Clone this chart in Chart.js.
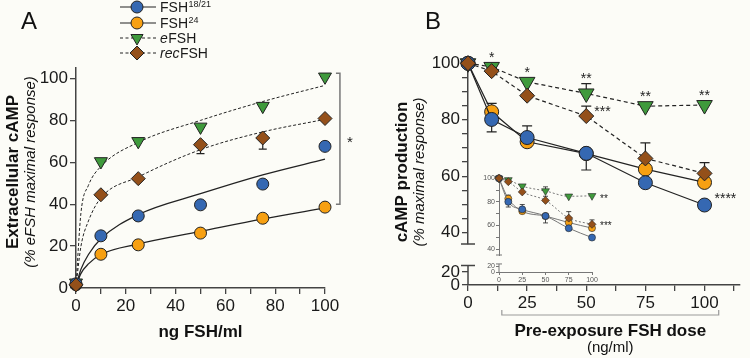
<!DOCTYPE html>
<html>
<head>
<meta charset="utf-8">
<script src="https://cdn.jsdelivr.net/npm/chart.js@4.4.1/dist/chart.umd.min.js"></script>
<style>
html, body { margin: 0; padding: 0; background: #fcfcf7; }
#wrap { position: relative; width: 750px; height: 358px; overflow: hidden; }
canvas { position: absolute; }
#chartA { left: 0; top: 0; }
#chartB { left: 390px; top: 0; }
#inset { left: 470px; top: 168px; }
</style>
</head>
<body>
<div id="wrap">
  <canvas id="chartA" width="390" height="358"></canvas>
  <canvas id="chartB" width="360" height="358"></canvas>
  <canvas id="inset" width="160" height="125"></canvas>
</div>
<script>
const FONT = "'Liberation Sans', Arial, Helvetica, sans-serif";
Chart.defaults.font.family = FONT;
Chart.defaults.color = '#1a1a1a';
Chart.defaults.animation = false;
Chart.defaults.plugins.legend.display = false;
Chart.defaults.plugins.tooltip.enabled = false;

// series (same order in both panels)
const seriesNames = ['FSH18/21', 'FSH24', 'eFSH', 'recFSH'];
const seriesColors = ['#3568b2', '#f7a012', '#3f9a3c', '#94501a'];
const seriesShapes = ['circle', 'circle', 'triangle', 'rectRot'];
const seriesDashed = [false, false, true, true];
const drawOrder = [1, 2, 3, 0];

// legend text pieces: n = normal, i = italic, sup = superscript
const legendParts = [
  [['FSH', 'n'], ['18/21', 'sup']],
  [['FSH', 'n'], ['24', 'sup']],
  [['e', 'i'], ['FSH', 'n']],
  [['rec', 'i'], ['FSH', 'n']]
];

// ---- panel A : extracellular cAMP ----
const doseA = [0, 10, 25, 50, 75, 100];
const fsh1821A = [2, 24.9, 34.4, 39.7, 49.6, 67.6];
const fsh24A = [1.5, 16.1, 20.6, 26.2, 33.3, 38.6];
const eFshA = [2.5, 60.4, 70, 76.9, 86.8, 100.8];
const recFshA = [1.5, 44.5, 52.2, 68.4, 71.6, 80.9];
const recFshErrLoA = [0, 0, 0, 4.3, 5.3, 0];

// fitted curves
const fitDoseA = [0, 2, 5, 10, 25, 50, 75, 100];
const fitFsh1821A = [1, 9, 16, 23.5, 35, 45, 54, 61.5];
const fitFsh24A = [1, 7, 11.5, 16, 21, 27, 33, 38.2];
const fitEFshA = [1, 36, 49, 58, 69.5, 80, 89, 96.7];
const fitRecFshA = [1, 20, 32, 43, 53, 66, 74.5, 80.5];

const ticksAx = [0, 10, 20, 30, 40, 50, 60, 70, 80, 90, 100];
const ticksAy = [0, 20, 40, 60, 80, 100];

// ---- panel B : cAMP production after pre-exposure ----
const doseB = [0, 10, 25, 50, 75, 100];
const fsh1821B = [100, 80.1, 73.7, 68.1, 57.7, 49.8];
const fsh24B = [100, 82.8, 72.2, 68, 62.5, 57.8];
const eFshB = [100, 98.7, 93.4, 89.3, 84.8, 85.2];
const recFshB = [100, 97.2, 88.5, 81.3, 66.3, 61];

const fsh1821ErrHiB = [0, 0, 4.1, 0, 0, 0];
const fsh1821ErrLoB = [0, 4.4, 0, 5.9, 0, 0];
const fsh24ErrHiB = [0, 3, 0, 0, 0, 0];
const eFshErrHiB = [0, 0, 0, 3.5, 0, 0];
const recFshErrHiB = [0, 0, 0, 3.5, 5.5, 3.8];

const starsEFshB = ['', '*', '*', '**', '**', '**'];
const starsRecFshB = ['', '', '', '***', '', ''];
const starsFsh1821B = ['', '', '', '', '', '****'];
const starsEFshInset = ['', '', '', '', '', '**'];
const starsRecFshInset = ['', '', '', '', '', '***'];

const ticksBx = [0, 12.5, 25, 37.5, 50, 62.5, 75, 87.5, 100, 112.5];
const ticksBy = [40, 45, 50, 55, 60, 65, 70, 75, 80, 85, 90, 95, 100];
const ticksBy2 = [0, 20];
const ticksIx = [0, 25, 50, 75, 100];
const ticksIy = [40, 50, 60, 70, 80, 90, 100];
const ticksIy2 = [0, 20];

// ---------- helpers ----------
function setTicks(list) {
  return s => { s.ticks = list.map(v => ({ value: v })); };
}

function drawMarker(ctx, shape, x, y, r, fill) {
  ctx.beginPath();
  if (shape === 'circle') {
    ctx.arc(x, y, r, 0, Math.PI * 2);
  } else if (shape === 'triangle') {
    ctx.moveTo(x, y + r);
    ctx.lineTo(x - r * 0.866, y - r / 2);
    ctx.lineTo(x + r * 0.866, y - r / 2);
    ctx.closePath();
  } else {
    ctx.moveTo(x, y - r); ctx.lineTo(x + r, y); ctx.lineTo(x, y + r); ctx.lineTo(x - r, y);
    ctx.closePath();
  }
  ctx.fillStyle = fill; ctx.fill();
  ctx.strokeStyle = '#222'; ctx.lineWidth = 1; ctx.stroke();
}

function richText(ctx, parts, x, y, size) {
  let cx = x;
  parts.forEach(([t, st]) => {
    const sz = st === 'sup' ? Math.round(size * 0.65) : size;
    ctx.font = (st === 'i' ? 'italic ' : '') + sz + 'px ' + FONT;
    ctx.fillText(t, cx, st === 'sup' ? y - size * 0.28 : y);
    cx += ctx.measureText(t).width + (st === 'sup' ? 0 : 0.5);
  });
}

function vText(ctx, text, x, y, font) {
  ctx.save();
  ctx.translate(x, y);
  ctx.rotate(-Math.PI / 2);
  ctx.font = font;
  ctx.textAlign = 'center';
  ctx.textBaseline = 'middle';
  ctx.fillText(text, 0, 0);
  ctx.restore();
}

function errorBars(cap, width) {
  return {
    id: 'errorBars',
    beforeDatasetsDraw(chart) {
      const ctx = chart.ctx;
      ctx.save();
      ctx.strokeStyle = '#222';
      ctx.lineWidth = width;
      chart.data.datasets.forEach(ds => {
        if (!ds.errHi && !ds.errLo) return;
        const xs = chart.scales.x, ys = chart.scales[ds.yAxisID || 'y'];
        ds.data.forEach((p, j) => {
          [[ds.errHi, 1], [ds.errLo, -1]].forEach(([arr, s]) => {
            if (!arr || !arr[j]) return;
            const px = xs.getPixelForValue(p.x);
            const p0 = ys.getPixelForValue(p.y);
            const p1 = ys.getPixelForValue(p.y + s * arr[j]);
            ctx.beginPath();
            ctx.moveTo(px, p0); ctx.lineTo(px, p1);
            ctx.moveTo(px - cap, p1); ctx.lineTo(px + cap, p1);
            ctx.stroke();
          });
        });
      });
      ctx.restore();
    }
  };
}

// broken y axis: lower stub + caps
function axisBreak(lowTop, capHalf, color, width) {
  return {
    id: 'axisBreak',
    afterDraw(chart) {
      const { ctx, chartArea: ca, scales } = chart;
      const x = ca.left;
      const yLow0 = scales.y2.getPixelForValue(0);
      const yLowTop = scales.y2.getPixelForValue(lowTop);
      const yUpBot = scales.y.getPixelForValue(scales.y.min);
      ctx.save();
      ctx.strokeStyle = color;
      ctx.lineWidth = width;
      ctx.beginPath();
      ctx.moveTo(x, yLow0); ctx.lineTo(x, yLowTop);
      ctx.moveTo(x - capHalf, yLowTop); ctx.lineTo(x + capHalf, yLowTop);
      ctx.moveTo(x - capHalf, yUpBot); ctx.lineTo(x + capHalf, yUpBot);
      ctx.stroke();
      ctx.restore();
    }
  };
}

function starLabels(specs, size) {
  return {
    id: 'stars',
    afterDatasetsDraw(chart) {
      const ctx = chart.ctx;
      ctx.save();
      ctx.fillStyle = '#222';
      ctx.font = size + 'px ' + FONT;
      ctx.textBaseline = 'alphabetic';
      specs.forEach(sp => {
        const meta = chart.getDatasetMeta(sp.series);
        const ds = chart.data.datasets[sp.series];
        const ys = chart.scales.y;
        sp.labels.forEach((lab, j) => {
          if (!lab) return;
          const el = meta.data[j];
          let cx, cy;
          if (sp.place === 'above') {
            let top = el.y - 13;
            if (ds.errHi && ds.errHi[j]) top = Math.min(top, ys.getPixelForValue(ds.data[j].y + ds.errHi[j]) - 9);
            cx = el.x; cy = top;
            ctx.textAlign = 'center';
          } else {
            cx = el.x + sp.dx; cy = el.y + sp.dy;
            ctx.textAlign = 'left';
          }
          ctx.fillText(lab, cx, cy + size * 0.57);
        });
      });
      ctx.restore();
    }
  };
}

const axisColor = '#444';

// ---------- panel A ----------
const pointsA = [fsh1821A, fsh24A, eFshA, recFshA];
const fitsA = [fitFsh1821A, fitFsh24A, fitEFshA, fitRecFshA];
const radA = { circle: 6, triangle: 7.5, rectRot: 7 };

const setsA = [];
pointsA.forEach((vals, i) => {
  setsA.push({
    label: seriesNames[i],
    data: doseA.map((x, j) => ({ x, y: vals[j] })),
    showLine: false,
    pointStyle: seriesShapes[i],
    rotation: seriesShapes[i] === 'triangle' ? 180 : 0,
    pointRadius: radA[seriesShapes[i]],
    backgroundColor: seriesColors[i],
    borderColor: '#222',
    borderWidth: 1,
    errLo: i === 3 ? recFshErrLoA : null,
    order: drawOrder[i],
    clip: false
  });
});
fitsA.forEach((vals, i) => {
  setsA.push({
    label: seriesNames[i] + ' fit',
    data: fitDoseA.map((x, j) => ({ x, y: vals[j] })),
    showLine: true,
    pointRadius: 0,
    borderColor: '#222',
    borderWidth: seriesDashed[i] ? 1 : 1.3,
    borderDash: seriesDashed[i] ? [3, 2] : [],
    cubicInterpolationMode: 'monotone',
    order: 10,
    clip: false
  });
});

const decoA = {
  id: 'decoA',
  afterDraw(chart) {
    const { ctx, chartArea: ca, scales: { x, y } } = chart;
    ctx.save();
    ctx.fillStyle = '#111';
    ctx.textAlign = 'center';
    ctx.textBaseline = 'middle';
    ctx.font = '24px ' + FONT;
    ctx.fillText('A', 29, 22);
    ctx.font = 'bold 17px ' + FONT;
    ctx.fillText('ng FSH/ml', (ca.left + ca.right) / 2, 332);
    vText(ctx, 'Extracellular cAMP', 13, 172, 'bold 17px ' + FONT);
    vText(ctx, '(% eFSH maximal response)', 31, 172, 'italic 15px ' + FONT);

    // significance bracket
    const bx = x.getPixelForValue(106);
    const bTop = y.getPixelForValue(102.5), bBot = y.getPixelForValue(40);
    ctx.strokeStyle = '#777';
    ctx.lineWidth = 1.5;
    ctx.beginPath();
    ctx.moveTo(bx - 4, bTop); ctx.lineTo(bx, bTop); ctx.lineTo(bx, bBot); ctx.lineTo(bx - 4, bBot);
    ctx.stroke();
    ctx.fillStyle = '#222';
    ctx.font = '15px ' + FONT;
    ctx.textBaseline = 'alphabetic';
    ctx.fillText('*', bx + 10, (bTop + bBot) / 2 + 8);

    // legend
    const rows = [7, 23, 38, 53];
    ctx.textAlign = 'left';
    ctx.textBaseline = 'middle';
    legendParts.forEach((parts, i) => {
      const ly = rows[i];
      ctx.strokeStyle = '#222';
      ctx.lineWidth = 1;
      ctx.setLineDash(seriesDashed[i] ? [3, 2.5] : []);
      ctx.beginPath(); ctx.moveTo(120, ly); ctx.lineTo(156, ly); ctx.stroke();
      ctx.setLineDash([]);
      drawMarker(ctx, seriesShapes[i], 137, ly, seriesShapes[i] === 'circle' ? 6 : 7, seriesColors[i]);
      ctx.fillStyle = '#1a1a1a';
      richText(ctx, parts, 160, ly + 1, 14);
    });
    ctx.restore();
  }
};

new Chart(document.getElementById('chartA'), {
  type: 'scatter',
  data: { datasets: setsA },
  options: {
    responsive: false,
    devicePixelRatio: 1,
    events: [],
    layout: { padding: { left: 6, top: 68, right: 65, bottom: 0 } },
    scales: {
      x: {
        type: 'linear', min: 0, max: 100,
        afterBuildTicks: setTicks(ticksAx),
        afterFit: s => { s.height = 70; },
        ticks: { autoSkip: false, maxRotation: 0, padding: 2, font: { size: 17 }, color: '#1a1a1a',
          callback: v => (v % 20 === 0 ? v : '') },
        grid: { drawOnChartArea: false, tickLength: 6, color: axisColor, lineWidth: 1.3 },
        border: { color: axisColor, width: 1.5 }
      },
      y: {
        type: 'linear', min: 0, max: 105,
        afterBuildTicks: setTicks(ticksAy),
        afterFit: s => { s.width = 70; },
        ticks: { autoSkip: false, padding: 2, font: { size: 17 }, color: '#1a1a1a' },
        grid: { drawOnChartArea: false, tickLength: 6, color: axisColor, lineWidth: 1.3 },
        border: { color: axisColor, width: 1.5 }
      }
    }
  },
  plugins: [errorBars(4, 1.2), decoA]
});

// ---------- panel B ----------
const valsB = [fsh1821B, fsh24B, eFshB, recFshB];
const errHiB = [fsh1821ErrHiB, fsh24ErrHiB, eFshErrHiB, recFshErrHiB];
const errLoB = [fsh1821ErrLoB, null, null, null];
const radB = { circle: 7, triangle: 9, rectRot: 7.5 };
const radI = { circle: 3.5, triangle: 4.5, rectRot: 4 };

function lineSets(sizes, lineColor, lineWidth, dash, ptBorder) {
  return valsB.map((vals, i) => ({
    label: seriesNames[i],
    data: doseB.map((x, j) => ({ x, y: vals[j] })),
    showLine: true,
    borderColor: lineColor,
    borderWidth: lineWidth,
    borderDash: seriesDashed[i] ? dash : [],
    pointStyle: seriesShapes[i],
    pointRotation: seriesShapes[i] === 'triangle' ? 180 : 0,
    pointRadius: sizes[seriesShapes[i]],
    pointBackgroundColor: seriesColors[i],
    pointBorderColor: '#222',
    pointBorderWidth: ptBorder,
    errHi: errHiB[i],
    errLo: errLoB[i],
    yAxisID: 'y',
    order: drawOrder[i],
    clip: false
  }));
}

const decoB = {
  id: 'decoB',
  afterDraw(chart) {
    const { ctx, chartArea: ca, scales: { x } } = chart;
    ctx.save();
    ctx.fillStyle = '#111';
    ctx.textAlign = 'center';
    ctx.textBaseline = 'middle';
    ctx.font = '24px ' + FONT;
    ctx.fillText('B', 43, 22);
    vText(ctx, 'cAMP production', 12, 172, 'bold 17px ' + FONT);
    vText(ctx, '(% maximal response)', 30, 172, 'italic 15px ' + FONT);

    // bracket under the dose axis
    const x0 = x.getPixelForValue(14.3), x1 = x.getPixelForValue(106);
    const by = ca.bottom + 30;
    ctx.strokeStyle = '#999';
    ctx.lineWidth = 1.2;
    ctx.beginPath();
    ctx.moveTo(x0, by - 5); ctx.lineTo(x0, by); ctx.lineTo(x1, by); ctx.lineTo(x1, by - 5);
    ctx.stroke();
    const mid = (x0 + x1) / 2;
    ctx.font = 'bold 17px ' + FONT;
    ctx.fillText('Pre-exposure FSH dose', mid, 331);
    ctx.font = '15px ' + FONT;
    ctx.fillText('(ng/ml)', mid, 348);
    ctx.restore();
  }
};

new Chart(document.getElementById('chartB'), {
  type: 'scatter',
  data: { datasets: lineSets(radB, '#222', 1.2, [4, 3], 1) },
  options: {
    responsive: false,
    devicePixelRatio: 1,
    events: [],
    layout: { padding: { left: 0, top: 59, right: 0, bottom: 0 } },
    scales: {
      x: {
        type: 'linear', min: 0, max: 115,
        afterBuildTicks: setTicks(ticksBx),
        afterFit: s => { s.height = 73; },
        ticks: { autoSkip: false, maxRotation: 0, padding: 2, font: { size: 17 }, color: '#1a1a1a',
          callback: v => (v % 25 === 0 ? v : '') },
        grid: { drawOnChartArea: false, tickLength: 6, color: axisColor, lineWidth: 1.3 },
        border: { color: axisColor, width: 1.5 }
      },
      y: {
        type: 'linear', position: 'left', stack: 'left', stackWeight: 185, weight: 1,
        min: 36, max: 101.5,
        afterBuildTicks: setTicks(ticksBy),
        afterFit: s => { s.width = 78; },
        ticks: { autoSkip: false, padding: 2, font: { size: 17 }, color: '#1a1a1a',
          callback: v => (v % 20 === 0 ? v : '') },
        grid: { drawOnChartArea: false, tickLength: 6, color: axisColor, lineWidth: 1.3 },
        border: { color: axisColor, width: 1.5 }
      },
      y2: {
        type: 'linear', position: 'left', stack: 'left', stackWeight: 41, weight: 0,
        min: 0, max: 63,
        afterBuildTicks: setTicks(ticksBy2),
        afterFit: s => { s.width = 78; },
        ticks: { autoSkip: false, padding: 2, font: { size: 17 }, color: '#1a1a1a' },
        grid: { drawOnChartArea: false, tickLength: 6, color: axisColor, lineWidth: 1.3 },
        border: { display: false }
      }
    }
  },
  plugins: [errorBars(5, 1.2), axisBreak(30, 7, axisColor, 1.5), decoB,
    starLabels([
      { series: 2, labels: starsEFshB, place: 'above' },
      { series: 3, labels: starsRecFshB, place: 'right', dx: 8, dy: -8 },
      { series: 0, labels: starsFsh1821B, place: 'right', dx: 10, dy: -10 }
    ], 14)]
});

// ---------- inset ----------
const smallTick = { autoSkip: false, padding: 1, font: { size: 7 }, color: '#555' };
const smallGrid = { drawOnChartArea: false, tickLength: 3, color: '#777', lineWidth: 1 };

new Chart(document.getElementById('inset'), {
  type: 'scatter',
  data: { datasets: lineSets(radI, '#777', 1, [2, 2], 0.6).map(d => Object.assign(d, { cubicInterpolationMode: 'monotone' })) },
  options: {
    responsive: false,
    devicePixelRatio: 1,
    events: [],
    layout: { padding: { left: 0, top: 8, right: 38, bottom: 0 } },
    scales: {
      x: {
        type: 'linear', min: 0, max: 100,
        afterBuildTicks: setTicks(ticksIx),
        afterFit: s => { s.height = 21; },
        ticks: Object.assign({ maxRotation: 0 }, smallTick),
        grid: smallGrid,
        border: { color: '#777', width: 1 }
      },
      y: {
        type: 'linear', position: 'left', stack: 'left', stackWeight: 79, weight: 1,
        min: 35, max: 102,
        afterBuildTicks: setTicks(ticksIy),
        afterFit: s => { s.width = 29; },
        ticks: Object.assign({ callback: v => (v % 20 === 0 ? v : '') }, smallTick),
        grid: smallGrid,
        border: { color: '#777', width: 1 }
      },
      y2: {
        type: 'linear', position: 'left', stack: 'left', stackWeight: 17, weight: 0,
        min: 0, max: 57,
        afterBuildTicks: setTicks(ticksIy2),
        afterFit: s => { s.width = 29; },
        ticks: smallTick,
        grid: smallGrid,
        border: { display: false }
      }
    }
  },
  plugins: [errorBars(2.5, 0.8), axisBreak(27, 3, '#777', 1),
    starLabels([
      { series: 2, labels: starsEFshInset, place: 'right', dx: 8, dy: 0 },
      { series: 3, labels: starsRecFshInset, place: 'right', dx: 8, dy: -1 }
    ], 10)]
});
</script>
</body>
</html>
